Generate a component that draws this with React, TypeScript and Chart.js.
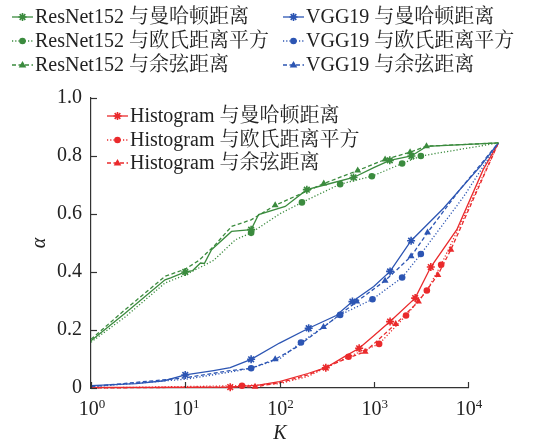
import React, { useEffect, useRef } from "react";
import { Chart, registerables } from "chart.js";

Chart.register(...registerables);

// ---------- data ----------
// ResNet152
const RES_MAN_K = [1, 2.3, 6.1, 7, 10, 12, 14.5, 16, 19, 31, 50, 60, 115, 195, 300, 610, 1000, 1480, 2510, 3630, 21000];
const RES_MAN_A = [0.163, 0.258, 0.373, 0.38, 0.4, 0.405, 0.431, 0.43, 0.477, 0.54, 0.546, 0.598, 0.626, 0.684, 0.7, 0.726, 0.76, 0.785, 0.8, 0.833, 0.845];
const RES_MAN_MARK = [10, 50, 195, 610, 1480, 2510];

const RES_EUC_K = [1, 2.3, 6.1, 10, 20, 34, 50, 100, 173, 440, 955, 2000, 3160, 21000];
const RES_EUC_A = [0.158, 0.245, 0.362, 0.39, 0.44, 0.511, 0.535, 0.6, 0.64, 0.703, 0.73, 0.774, 0.8, 0.845];
const RES_EUC_MARK = [50, 173, 440, 955, 2000, 3160];

const RES_COS_K = [1, 2.3, 6.1, 10, 14, 20, 31, 50, 90, 295, 676, 1320, 2430, 3630, 21000];
const RES_COS_A = [0.168, 0.27, 0.385, 0.41, 0.44, 0.488, 0.557, 0.58, 0.63, 0.705, 0.75, 0.788, 0.813, 0.834, 0.845];
const RES_COS_MARK = [90, 295, 676, 1320, 2430, 3630];

// VGG19
const VGG_MAN_K = [1, 3, 6, 10, 20, 30, 50, 100, 204, 400, 594, 1000, 1490, 2490, 5500, 13500, 21000];
const VGG_MAN_A = [0.008, 0.015, 0.025, 0.045, 0.06, 0.07, 0.099, 0.155, 0.206, 0.25, 0.298, 0.35, 0.402, 0.508, 0.62, 0.764, 0.845];
const VGG_MAN_MARK = [10, 50, 204, 594, 1490, 2490];

const VGG_EUC_K = [1, 10, 30, 50, 100, 169, 440, 970, 2000, 3160, 9000, 21000];
const VGG_EUC_A = [0.004, 0.03, 0.055, 0.068, 0.1, 0.157, 0.252, 0.306, 0.381, 0.462, 0.66, 0.845];
const VGG_EUC_MARK = [50, 169, 440, 970, 2000, 3160];

const VGG_COS_K = [1, 10, 30, 50, 90, 150, 293, 660, 1320, 2490, 3720, 8000, 21000];
const VGG_COS_A = [0.005, 0.035, 0.06, 0.068, 0.099, 0.14, 0.21, 0.298, 0.37, 0.454, 0.536, 0.68, 0.845];
const VGG_COS_MARK = [90, 293, 660, 1320, 2490, 3720];

// Histogram
const HIS_MAN_K = [1, 10, 30, 60, 100, 200, 310, 500, 700, 1000, 1490, 2750, 4030, 7600, 14500, 21000];
const HIS_MAN_A = [0.002, 0.002, 0.003, 0.01, 0.022, 0.05, 0.07, 0.11, 0.137, 0.18, 0.229, 0.31, 0.417, 0.546, 0.753, 0.845];
const HIS_MAN_MARK = [30, 310, 700, 1490, 2750, 4030];

const HIS_EUC_K = [1, 40, 100, 200, 540, 1140, 2200, 3660, 5190, 10000, 21000];
const HIS_EUC_A = [0.0, 0.008, 0.015, 0.04, 0.108, 0.152, 0.25, 0.336, 0.425, 0.62, 0.845];
const HIS_EUC_MARK = [40, 540, 1140, 2200, 3660, 5190];

const HIS_COS_K = [1, 55, 100, 200, 500, 810, 1710, 2980, 4790, 6580, 11000, 21000];
const HIS_COS_A = [0.0, 0.004, 0.018, 0.045, 0.1, 0.125, 0.221, 0.298, 0.39, 0.477, 0.64, 0.845];
const HIS_COS_MARK = [55, 810, 1710, 2980, 4790, 6580];

const LABELS = [
  "ResNet152 与曼哈顿距离",
  "ResNet152 与欧氏距离平方",
  "ResNet152 与余弦距离",
  "VGG19 与曼哈顿距离",
  "VGG19 与欧氏距离平方",
  "VGG19 与余弦距离",
  "Histogram 与曼哈顿距离",
  "Histogram 与欧氏距离平方",
  "Histogram 与余弦距离",
];

const Y_TICKS = [0, 0.2, 0.4, 0.6, 0.8, 1.0];
const X_TICK_EXPS = [0, 1, 2, 3, 4];
const X_MIN = 1;
const X_MAX = 10000;
const X_TITLE = "K";
const Y_TITLE = "α";

// ---------- styles ----------
const GREEN = "#3b8b3e";
const BLUE = "#2c55b3";
const RED = "#ea2a2c";
const FONT = '"Liberation Serif", "Noto Serif CJK SC", "Noto Sans CJK SC", serif';

type Kind = "solid" | "dotted" | "dashed";
type Marker = "star" | "circle" | "triangle";

const SERIES: { k: number[]; a: number[]; m: number[]; color: string; kind: Kind; marker: Marker }[] = [
  { k: RES_MAN_K, a: RES_MAN_A, m: RES_MAN_MARK, color: GREEN, kind: "solid", marker: "star" },
  { k: RES_EUC_K, a: RES_EUC_A, m: RES_EUC_MARK, color: GREEN, kind: "dotted", marker: "circle" },
  { k: RES_COS_K, a: RES_COS_A, m: RES_COS_MARK, color: GREEN, kind: "dashed", marker: "triangle" },
  { k: VGG_MAN_K, a: VGG_MAN_A, m: VGG_MAN_MARK, color: BLUE, kind: "solid", marker: "star" },
  { k: VGG_EUC_K, a: VGG_EUC_A, m: VGG_EUC_MARK, color: BLUE, kind: "dotted", marker: "circle" },
  { k: VGG_COS_K, a: VGG_COS_A, m: VGG_COS_MARK, color: BLUE, kind: "dashed", marker: "triangle" },
  { k: HIS_MAN_K, a: HIS_MAN_A, m: HIS_MAN_MARK, color: RED, kind: "solid", marker: "star" },
  { k: HIS_EUC_K, a: HIS_EUC_A, m: HIS_EUC_MARK, color: RED, kind: "dotted", marker: "circle" },
  { k: HIS_COS_K, a: HIS_COS_A, m: HIS_COS_MARK, color: RED, kind: "dashed", marker: "triangle" },
];

const DASH: Record<Kind, number[]> = { solid: [], dotted: [1.2, 2], dashed: [4, 2.5] };
const RADIUS: Record<Marker, number> = { star: 4, circle: 3.3, triangle: 4 };

function drawMarker(ctx: CanvasRenderingContext2D, marker: Marker, x: number, y: number, color: string) {
  const r = RADIUS[marker];
  ctx.save();
  ctx.setLineDash([]);
  ctx.fillStyle = color;
  ctx.strokeStyle = color;
  if (marker === "circle") {
    ctx.beginPath();
    ctx.arc(x, y, r, 0, Math.PI * 2);
    ctx.fill();
  } else if (marker === "triangle") {
    ctx.beginPath();
    ctx.moveTo(x, y - r);
    ctx.lineTo(x + r * 0.95, y + r * 0.6);
    ctx.lineTo(x - r * 0.95, y + r * 0.6);
    ctx.closePath();
    ctx.fill();
  } else {
    ctx.lineWidth = 1.6;
    ctx.beginPath();
    for (let i = 0; i < 4; i++) {
      const ang = (i * Math.PI) / 4;
      ctx.moveTo(x - r * Math.cos(ang), y - r * Math.sin(ang));
      ctx.lineTo(x + r * Math.cos(ang), y + r * Math.sin(ang));
    }
    ctx.stroke();
    ctx.beginPath();
    ctx.arc(x, y, 2, 0, Math.PI * 2);
    ctx.fill();
  }
  ctx.restore();
}

const LEGEND_POS = [
  { x: 12, y: 17 }, { x: 12, y: 41 }, { x: 12, y: 65 },
  { x: 283, y: 17 }, { x: 283, y: 41 }, { x: 283, y: 65 },
  { x: 107, y: 116 }, { x: 107, y: 140 }, { x: 107, y: 163 },
];

const decorPlugin = {
  id: "decor",
  afterDatasetsDraw(chart: any) {
    const ctx: CanvasRenderingContext2D = chart.ctx;
    const area = chart.chartArea;
    const xs = chart.scales.x;
    const ys = chart.scales.y;
    ctx.save();
    // star markers on the data
    chart.data.datasets.forEach((ds: any, i: number) => {
      const s = SERIES[i];
      if (s.marker !== "star") return;
      const meta = chart.getDatasetMeta(i);
      meta.data.forEach((pt: any, j: number) => {
        if (s.m.includes(s.k[j])) drawMarker(ctx, "star", pt.x, pt.y, s.color);
      });
    });
    // inward ticks
    ctx.strokeStyle = "#333";
    ctx.lineWidth = 1.2;
    ctx.setLineDash([]);
    for (const v of Y_TICKS) {
      const py = Math.round(ys.getPixelForValue(v)) + 0.5;
      ctx.beginPath();
      ctx.moveTo(area.left, py);
      ctx.lineTo(area.left + 6, py);
      ctx.stroke();
    }
    for (const e of X_TICK_EXPS) {
      const px = Math.round(xs.getPixelForValue(Math.pow(10, e))) + 0.5;
      ctx.beginPath();
      ctx.moveTo(px, area.bottom);
      ctx.lineTo(px, area.bottom - 6);
      ctx.stroke();
    }
    // x tick labels 10^e
    ctx.fillStyle = "#222";
    ctx.textBaseline = "alphabetic";
    for (const e of X_TICK_EXPS) {
      const px = xs.getPixelForValue(Math.pow(10, e));
      ctx.font = `20px ${FONT}`;
      const w1 = ctx.measureText("10").width;
      ctx.font = `13px ${FONT}`;
      const w2 = ctx.measureText(String(e)).width;
      const start = px - (w1 + w2) / 2 + 1;
      ctx.font = `20px ${FONT}`;
      ctx.textAlign = "left";
      ctx.fillText("10", start, 415);
      ctx.font = `13px ${FONT}`;
      ctx.fillText(String(e), start + w1, 408);
    }
    // axis titles
    ctx.font = `italic 20px ${FONT}`;
    ctx.textAlign = "center";
    ctx.textBaseline = "middle";
    ctx.fillText(X_TITLE, 280, 434);
    ctx.save();
    ctx.translate(40, 243);
    ctx.rotate(-Math.PI / 2);
    ctx.fillText(Y_TITLE, 0, 0);
    ctx.restore();
    // legends
    ctx.font = `20px ${FONT}`;
    ctx.textAlign = "left";
    ctx.textBaseline = "middle";
    SERIES.forEach((s, i) => {
      const p = LEGEND_POS[i];
      ctx.strokeStyle = s.color;
      ctx.lineWidth = 1.3;
      ctx.setLineDash(DASH[s.kind]);
      ctx.beginPath();
      ctx.moveTo(p.x, p.y);
      ctx.lineTo(p.x + 21, p.y);
      ctx.stroke();
      drawMarker(ctx, s.marker, p.x + 10.5, p.y, s.color);
      ctx.fillStyle = "#222";
      ctx.fillText(LABELS[i], p.x + 23, p.y + 1);
    });
    ctx.restore();
  },
};

export default function App() {
  const ref = useRef<HTMLCanvasElement | null>(null);
  useEffect(() => {
    if (!ref.current) return;
    const datasets = SERIES.map((s, i) => ({
      label: LABELS[i],
      data: s.k.map((k, j) => ({ x: k, y: s.a[j] })),
      borderColor: s.color,
      backgroundColor: s.color,
      borderWidth: 1.3,
      borderDash: DASH[s.kind],
      pointStyle: s.marker,
      pointRadius: (c: any) => (s.marker !== "star" && s.m.includes(s.k[c.dataIndex]) ? RADIUS[s.marker] : 0),
      pointBorderWidth: 0,
      pointBorderColor: s.color,
      pointBackgroundColor: s.color,
      tension: 0,
      clip: false as any,
    }));
    const chart = new Chart(ref.current, {
      type: "line",
      data: { datasets },
      options: {
        responsive: false,
        animation: false,
        layout: { padding: { top: 98, right: 81, left: 0, bottom: 0 } },
        plugins: { legend: { display: false }, tooltip: { enabled: false } },
        scales: {
          x: {
            type: "logarithmic",
            bounds: "data",
            grid: { display: false, drawTicks: false },
            border: { display: true, color: "#333", width: 1.2 },
            ticks: { display: false },
            afterDataLimits: (s: any) => { s.min = X_MIN; s.max = X_MAX; },
            afterFit: (s: any) => { s.height = 58; },
          },
          y: {
            type: "linear",
            min: 0,
            max: 1,
            grid: { display: false, drawTicks: false },
            border: { display: true, color: "#333", width: 1.2 },
            ticks: {
              stepSize: 0.2,
              padding: 9,
              color: "#222",
              font: { family: FONT, size: 20 },
              callback: (v: any) => (Number(v) === 0 ? "0" : Number(v).toFixed(1)),
            },
            afterFit: (s: any) => { s.width = 91; },
          },
        },
      },
      plugins: [decorPlugin],
    });
    return () => chart.destroy();
  }, []);
  return (
    <div style={{ position: "absolute", left: 0, top: 0, width: 549, height: 446, background: "#fff" }}>
      <canvas ref={ref} width={549} height={446} style={{ display: "block" }} />
    </div>
  );
}
